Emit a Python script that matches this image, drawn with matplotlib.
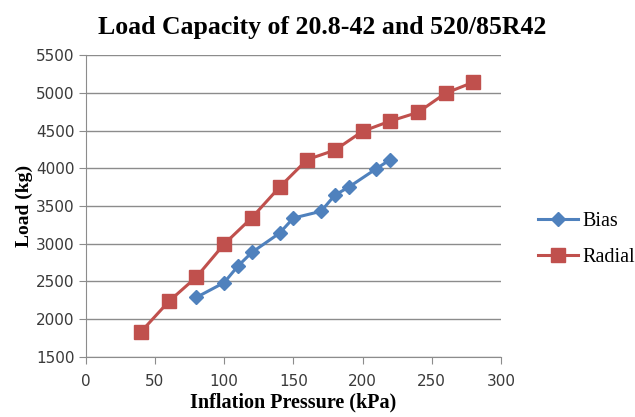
import matplotlib
matplotlib.use("Agg")
import matplotlib.pyplot as plt

bias_x = [80, 100, 110, 120, 140, 150, 170, 180, 190, 210, 220]
bias_y = [2290, 2485, 2705, 2885, 3140, 3340, 3430, 3645, 3750, 3995, 4115]
radial_x = [40, 60, 80, 100, 120, 140, 160, 180, 200, 220, 240, 260, 280]
radial_y = [1835, 2235, 2560, 2995, 3345, 3750, 4115, 4240, 4490, 4625, 4740, 4995, 5140]
x_ticks = [0, 50, 100, 150, 200, 250, 300]
y_ticks = [1500, 2000, 2500, 3000, 3500, 4000, 4500, 5000, 5500]

fig = plt.figure(figsize=(6.35, 4.17), dpi=100)
ax = fig.add_axes([0.135, 0.144, 0.654, 0.724])

serif = ["Liberation Serif", "DejaVu Serif"]
blue = "#4F81BD"
red = "#C0504D"

ax.plot(bias_x, bias_y, color=blue, lw=2.2, marker="D", ms=7.5, mfc=blue, mec=blue, label="Bias", zorder=3)
ax.plot(radial_x, radial_y, color=red, lw=2.2, marker="s", ms=9.5, mfc=red, mec=red, label="Radial", zorder=3)

ax.set_xlim(0, 300)
ax.set_ylim(1500, 5500)
ax.set_xticks(x_ticks)
ax.set_yticks(y_ticks)
ax.set_xticklabels([str(v) for v in x_ticks], fontsize=11, family="DejaVu Sans", color="#3a3a3a")
ax.set_yticklabels([str(v) for v in y_ticks], fontsize=11, family="DejaVu Sans", color="#3a3a3a")
ax.grid(axis="y", color="#8c8c8c", lw=1.0)
ax.set_axisbelow(True)
for s in ["top", "right"]:
    ax.spines[s].set_visible(False)
for s in ["left", "bottom"]:
    ax.spines[s].set_color("#8c8c8c")
ax.tick_params(axis="both", direction="out", length=5, color="#8c8c8c", pad=3)
ax.tick_params(axis="x", pad=7)

ax.set_xlabel("Inflation Pressure (kPa)", fontsize=14.5, fontweight="bold", family=serif, labelpad=3)
ax.set_ylabel("Load (kg)", fontsize=14, fontweight="bold", family=serif, labelpad=2)
fig.text(0.507, 0.935, "Load Capacity of 20.8-42 and 520/85R42", ha="center", va="center",
         fontsize=18.5, fontweight="bold", family=serif)

leg = ax.legend(loc="center left", bbox_to_anchor=(1.045, 0.39), frameon=False,
                prop={"family": serif, "size": 14.5}, handlelength=2.0, labelspacing=0.85,
                handletextpad=0.2)

fig.savefig("out.png", dpi=100)
